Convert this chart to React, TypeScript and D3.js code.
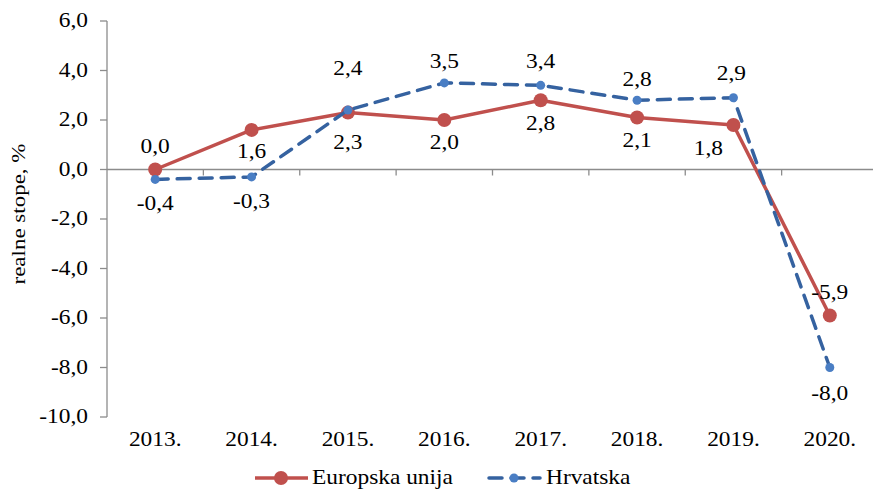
import React from 'react';
import * as d3 from 'd3';

const years = ['2013.', '2014.', '2015.', '2016.', '2017.', '2018.', '2019.', '2020.'];
const euValues = [0.0, 1.6, 2.3, 2.0, 2.8, 2.1, 1.8, -5.9];
const hrValues = [-0.4, -0.3, 2.4, 3.5, 3.4, 2.8, 2.9, -8.0];
const yTicks = [-10, -8, -6, -4, -2, 0, 2, 4, 6];

// hand placed data label offsets (px) like in the original sheet
const euLabelOffsets = [[0, -23], [0, 22], [0, 30], [0, 23], [0, 23], [0, 23], [-25, 23.5], [0, -23]];
const hrLabelOffsets = [[0, 24], [0, 25], [0, -42], [0, -21], [0, -24], [0, -21], [-2, -24], [0, 26]];

const W = 873;
const H = 491;
const FONT = '"Liberation Serif", "Times New Roman", serif';
const STRETCH = 1.17;

const EU_COLOR = '#C0504D';
const HR_LINE = '#3562A0';
const HR_MARK = '#4A7EC4';
const AXIS = '#8C8C8C';

const locale = d3.formatLocale({ decimal: ',', thousands: '.', grouping: [3], currency: ['', ''], minus: '-' });
const fmt = locale.format('.1f');

const Txt = ({ x, y, anchor = 'middle', size = 20, children }: any) => (
  <text
    transform={`translate(${x},${y}) scale(${STRETCH},1)`}
    textAnchor={anchor}
    dominantBaseline="central"
    fontFamily={FONT}
    fontSize={size}
    fill="#000"
  >
    {children}
  </text>
);

export default function App() {
  const x = d3.scaleBand<string>().domain(years).range([107, 878]).padding(0);
  const y = d3.scaleLinear().domain([-10, 6]).range([417, 21]);
  const cx = (i: number) => (x(years[i]) as number) + x.bandwidth() / 2;

  const line = d3
    .line<number>()
    .x((_, i) => cx(i))
    .y((d) => y(d));

  const y0 = y(0);

  return (
    <svg width={W} height={H} style={{ position: 'absolute', left: 0, top: 0, background: '#fff' }}>
      {/* y axis */}
      <line x1={107} x2={107} y1={y(6)} y2={y(-10)} stroke={AXIS} strokeWidth={1.3} />
      {yTicks.map((t) => (
        <g key={t}>
          <line x1={100} x2={107} y1={y(t)} y2={y(t)} stroke={AXIS} strokeWidth={1.3} />
          <Txt x={88} y={y(t)} anchor="end">{fmt(t)}</Txt>
        </g>
      ))}
      {/* category axis on zero */}
      <line x1={107} x2={878} y1={y0} y2={y0} stroke={AXIS} strokeWidth={1.3} />
      {years.map((yr) => (
        <line key={yr} x1={(x(yr) as number) + x.bandwidth()} x2={(x(yr) as number) + x.bandwidth()} y1={y0} y2={y0 + 6} stroke={AXIS} strokeWidth={1.3} />
      ))}
      {years.map((yr, i) => (
        <Txt key={yr} x={cx(i)} y={440}>{yr}</Txt>
      ))}

      <text
        transform={`translate(19,${(y(6) + y(-10)) / 2 - 5}) rotate(-90) scale(1,${1 / STRETCH})`}
        textAnchor="middle"
        dominantBaseline="central"
        fontFamily={FONT}
        fontSize={23}
      >
        realne stope, %
      </text>

      {/* Europska unija */}
      <path d={line(euValues) || ''} fill="none" stroke={EU_COLOR} strokeWidth={3.5} strokeLinejoin="round" />
      {euValues.map((v, i) => (
        <circle key={i} cx={cx(i)} cy={y(v)} r={7} fill={EU_COLOR} />
      ))}

      {/* Hrvatska */}
      <path d={line(hrValues) || ''} fill="none" stroke={HR_LINE} strokeWidth={3.5} strokeDasharray="13 9" strokeLinecap="round" />
      {hrValues.map((v, i) => (
        <circle key={i} cx={cx(i)} cy={y(v)} r={4.5} fill={HR_MARK} />
      ))}

      {euValues.map((v, i) => (
        <Txt key={'el' + i} x={cx(i) + euLabelOffsets[i][0]} y={y(v) + euLabelOffsets[i][1]}>{fmt(v)}</Txt>
      ))}
      {hrValues.map((v, i) => (
        <Txt key={'hl' + i} x={cx(i) + hrLabelOffsets[i][0]} y={y(v) + hrLabelOffsets[i][1]}>{fmt(v)}</Txt>
      ))}

      {/* legend */}
      <line x1={255} x2={308} y1={478} y2={478} stroke={EU_COLOR} strokeWidth={3.5} />
      <circle cx={281} cy={478} r={7} fill={EU_COLOR} />
      <Txt x={312} y={478} anchor="start">Europska unija</Txt>
      <line x1={489} x2={540} y1={478} y2={478} stroke={HR_LINE} strokeWidth={3.5} strokeDasharray="13 9" strokeLinecap="round" />
      <circle cx={514} cy={478} r={4.5} fill={HR_MARK} />
      <Txt x={546} y={478} anchor="start">Hrvatska</Txt>
    </svg>
  );
}
